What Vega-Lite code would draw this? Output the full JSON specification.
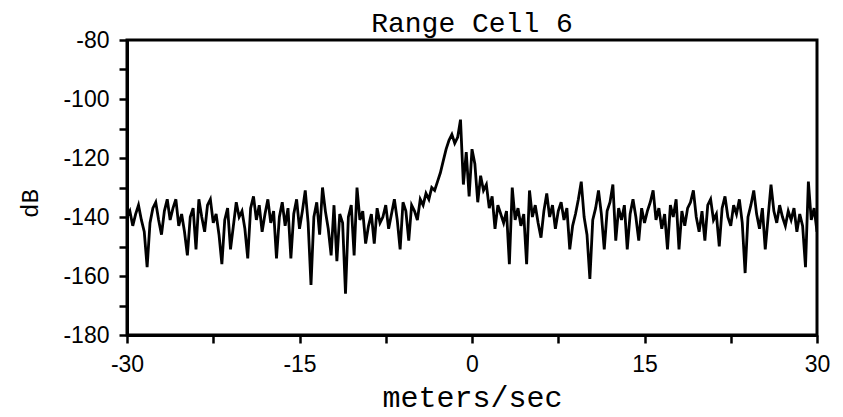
{
  "$schema": "https://vega.github.io/schema/vega-lite/v6.json",
  "autosize": "none",
  "width": 690,
  "height": 295,
  "padding": {"left": 127, "top": 40, "right": 26, "bottom": 82},
  "background": "white",
  "title": {
    "text": "Range Cell 6",
    "font": "Liberation Mono",
    "fontSize": 28,
    "fontWeight": "normal",
    "color": "black",
    "anchor": "middle",
    "offset": 8,
    "dy": 17
  },
  "config": {
    "view": {"stroke": "black", "strokeWidth": 3},
    "axis": {"grid": false, "domainColor": "black", "domainWidth": 3, "tickColor": "black", "tickWidth": 2.5, "labelColor": "black", "titleColor": "black"}
  },
  "data": {
    "values": [
      {"v": -30, "db": -140}, {"v": -29.75, "db": -138}, {"v": -29.5, "db": -143}, {"v": -29.25, "db": -139},
      {"v": -29, "db": -136}, {"v": -28.75, "db": -141}, {"v": -28.5, "db": -145}, {"v": -28.25, "db": -157},
      {"v": -28, "db": -142}, {"v": -27.75, "db": -137}, {"v": -27.5, "db": -135}, {"v": -27.25, "db": -141},
      {"v": -27, "db": -146}, {"v": -26.75, "db": -138}, {"v": -26.5, "db": -134}, {"v": -26.25, "db": -141},
      {"v": -26, "db": -137}, {"v": -25.75, "db": -134}, {"v": -25.5, "db": -143}, {"v": -25.25, "db": -139},
      {"v": -25, "db": -145}, {"v": -24.75, "db": -153}, {"v": -24.5, "db": -140}, {"v": -24.25, "db": -137},
      {"v": -24, "db": -151}, {"v": -23.75, "db": -134}, {"v": -23.5, "db": -140}, {"v": -23.25, "db": -145},
      {"v": -23, "db": -136}, {"v": -22.75, "db": -134}, {"v": -22.5, "db": -142}, {"v": -22.25, "db": -139},
      {"v": -22, "db": -146}, {"v": -21.75, "db": -156}, {"v": -21.5, "db": -141}, {"v": -21.25, "db": -137},
      {"v": -21, "db": -151}, {"v": -20.75, "db": -143}, {"v": -20.5, "db": -135}, {"v": -20.25, "db": -140},
      {"v": -20, "db": -138}, {"v": -19.75, "db": -144}, {"v": -19.5, "db": -154}, {"v": -19.25, "db": -137},
      {"v": -19, "db": -133}, {"v": -18.75, "db": -141}, {"v": -18.5, "db": -136}, {"v": -18.25, "db": -145},
      {"v": -18, "db": -139}, {"v": -17.75, "db": -134}, {"v": -17.5, "db": -142}, {"v": -17.25, "db": -138},
      {"v": -17, "db": -154}, {"v": -16.75, "db": -140}, {"v": -16.5, "db": -135}, {"v": -16.25, "db": -143},
      {"v": -16, "db": -137}, {"v": -15.75, "db": -154}, {"v": -15.5, "db": -139}, {"v": -15.25, "db": -134},
      {"v": -15, "db": -144}, {"v": -14.75, "db": -138}, {"v": -14.5, "db": -131}, {"v": -14.25, "db": -142},
      {"v": -14, "db": -163}, {"v": -13.75, "db": -140}, {"v": -13.5, "db": -135}, {"v": -13.25, "db": -146},
      {"v": -13, "db": -130}, {"v": -12.75, "db": -138}, {"v": -12.5, "db": -144}, {"v": -12.25, "db": -153},
      {"v": -12, "db": -136}, {"v": -11.75, "db": -155}, {"v": -11.5, "db": -139}, {"v": -11.25, "db": -142},
      {"v": -11, "db": -166}, {"v": -10.75, "db": -140}, {"v": -10.5, "db": -136}, {"v": -10.25, "db": -153},
      {"v": -10, "db": -130}, {"v": -9.75, "db": -141}, {"v": -9.5, "db": -138}, {"v": -9.25, "db": -149},
      {"v": -9, "db": -143}, {"v": -8.75, "db": -139}, {"v": -8.5, "db": -149}, {"v": -8.25, "db": -137},
      {"v": -8, "db": -142}, {"v": -7.75, "db": -140}, {"v": -7.5, "db": -136}, {"v": -7.25, "db": -144},
      {"v": -7, "db": -139}, {"v": -6.75, "db": -134}, {"v": -6.5, "db": -141}, {"v": -6.25, "db": -151},
      {"v": -6, "db": -135}, {"v": -5.75, "db": -138}, {"v": -5.5, "db": -148}, {"v": -5.25, "db": -136},
      {"v": -5, "db": -138}, {"v": -4.75, "db": -141}, {"v": -4.5, "db": -134}, {"v": -4.25, "db": -136},
      {"v": -4, "db": -132}, {"v": -3.75, "db": -134}, {"v": -3.5, "db": -130}, {"v": -3.25, "db": -131},
      {"v": -3, "db": -128}, {"v": -2.75, "db": -125}, {"v": -2.5, "db": -121}, {"v": -2.25, "db": -117},
      {"v": -2, "db": -114}, {"v": -1.75, "db": -112}, {"v": -1.5, "db": -115}, {"v": -1.25, "db": -113},
      {"v": -1, "db": -107}, {"v": -0.75, "db": -129}, {"v": -0.5, "db": -118}, {"v": -0.25, "db": -133},
      {"v": 0, "db": -117}, {"v": 0.25, "db": -122}, {"v": 0.5, "db": -135}, {"v": 0.75, "db": -126},
      {"v": 1, "db": -131}, {"v": 1.25, "db": -129}, {"v": 1.5, "db": -137}, {"v": 1.75, "db": -133},
      {"v": 2, "db": -144}, {"v": 2.25, "db": -136}, {"v": 2.5, "db": -139}, {"v": 2.75, "db": -142},
      {"v": 3, "db": -138}, {"v": 3.25, "db": -156}, {"v": 3.5, "db": -130}, {"v": 3.75, "db": -141},
      {"v": 4, "db": -137}, {"v": 4.25, "db": -143}, {"v": 4.5, "db": -139}, {"v": 4.75, "db": -156},
      {"v": 5, "db": -131}, {"v": 5.25, "db": -140}, {"v": 5.5, "db": -136}, {"v": 5.75, "db": -142},
      {"v": 6, "db": -147}, {"v": 6.25, "db": -138}, {"v": 6.5, "db": -132}, {"v": 6.75, "db": -140},
      {"v": 7, "db": -136}, {"v": 7.25, "db": -144}, {"v": 7.5, "db": -138}, {"v": 7.75, "db": -135},
      {"v": 8, "db": -141}, {"v": 8.25, "db": -137}, {"v": 8.5, "db": -151}, {"v": 8.75, "db": -143},
      {"v": 9, "db": -139}, {"v": 9.25, "db": -134}, {"v": 9.5, "db": -128}, {"v": 9.75, "db": -140},
      {"v": 10, "db": -146}, {"v": 10.25, "db": -161}, {"v": 10.5, "db": -141}, {"v": 10.75, "db": -137},
      {"v": 11, "db": -131}, {"v": 11.25, "db": -139}, {"v": 11.5, "db": -151}, {"v": 11.75, "db": -138},
      {"v": 12, "db": -135}, {"v": 12.25, "db": -129}, {"v": 12.5, "db": -148}, {"v": 12.75, "db": -137},
      {"v": 13, "db": -141}, {"v": 13.25, "db": -136}, {"v": 13.5, "db": -151}, {"v": 13.75, "db": -139},
      {"v": 14, "db": -134}, {"v": 14.25, "db": -140}, {"v": 14.5, "db": -148}, {"v": 14.75, "db": -137},
      {"v": 15, "db": -142}, {"v": 15.25, "db": -138}, {"v": 15.5, "db": -135}, {"v": 15.75, "db": -131},
      {"v": 16, "db": -141}, {"v": 16.25, "db": -137}, {"v": 16.5, "db": -144}, {"v": 16.75, "db": -139},
      {"v": 17, "db": -151}, {"v": 17.25, "db": -136}, {"v": 17.5, "db": -140}, {"v": 17.75, "db": -134},
      {"v": 18, "db": -151}, {"v": 18.25, "db": -138}, {"v": 18.5, "db": -143}, {"v": 18.75, "db": -137},
      {"v": 19, "db": -135}, {"v": 19.25, "db": -131}, {"v": 19.5, "db": -140}, {"v": 19.75, "db": -145},
      {"v": 20, "db": -138}, {"v": 20.25, "db": -148}, {"v": 20.5, "db": -136}, {"v": 20.75, "db": -134},
      {"v": 21, "db": -141}, {"v": 21.25, "db": -139}, {"v": 21.5, "db": -150}, {"v": 21.75, "db": -137},
      {"v": 22, "db": -133}, {"v": 22.25, "db": -140}, {"v": 22.5, "db": -143}, {"v": 22.75, "db": -136},
      {"v": 23, "db": -139}, {"v": 23.25, "db": -134}, {"v": 23.5, "db": -142}, {"v": 23.75, "db": -159},
      {"v": 24, "db": -140}, {"v": 24.25, "db": -136}, {"v": 24.5, "db": -131}, {"v": 24.75, "db": -139},
      {"v": 25, "db": -144}, {"v": 25.25, "db": -137}, {"v": 25.5, "db": -151}, {"v": 25.75, "db": -140},
      {"v": 26, "db": -129}, {"v": 26.25, "db": -138}, {"v": 26.5, "db": -142}, {"v": 26.75, "db": -136},
      {"v": 27, "db": -140}, {"v": 27.25, "db": -143}, {"v": 27.5, "db": -138}, {"v": 27.75, "db": -141},
      {"v": 28, "db": -137}, {"v": 28.25, "db": -145}, {"v": 28.5, "db": -139}, {"v": 28.75, "db": -143},
      {"v": 29, "db": -157}, {"v": 29.25, "db": -128}, {"v": 29.5, "db": -141}, {"v": 29.75, "db": -137},
      {"v": 30, "db": -145}
    ]
  },
  "mark": {"type": "line", "color": "black", "strokeWidth": 2.8, "clip": true},
  "encoding": {
    "x": {
      "field": "v",
      "type": "quantitative",
      "scale": {"domain": [-30, 30], "nice": false, "zero": false},
      "axis": {
        "title": "meters/sec",
        "titleFont": "Liberation Mono",
        "titleFontSize": 30,
        "titleFontWeight": "normal",
        "titleX": 345,
        "titleY": 62,
        "titleBaseline": "middle",
        "values": [-30, -22.5, -15, -7.5, 0, 7.5, 15, 22.5, 30],
        "labelExpr": "datum.value % 15 == 0 ? replace(datum.label, '\u2212', '-') : ''",
        "labelFont": "Liberation Sans",
        "labelFontSize": 23,
        "labelPadding": 10,
        "labelDx": 4,
        "labelFlush": false,
        "labelOverlap": false,
        "tickSize": 8
      }
    },
    "y": {
      "field": "db",
      "type": "quantitative",
      "scale": {"domain": [-180, -80], "nice": false, "zero": false},
      "axis": {
        "title": "dB",
        "titleFont": "Liberation Mono",
        "titleFontSize": 24,
        "titleFontWeight": "normal",
        "titleAngle": -90,
        "titleX": -97,
        "titleY": 163,
        "titleBaseline": "middle",
        "titleAlign": "center",
        "values": [-180, -170, -160, -150, -140, -130, -120, -110, -100, -90, -80],
        "labelExpr": "datum.value % 20 == 0 ? replace(datum.label, '\u2212', '-') : ''",
        "labelFont": "Liberation Sans",
        "labelFontSize": 23,
        "labelPadding": 10,
        "labelFlush": false,
        "labelOverlap": false,
        "tickSize": 8
      }
    }
  }
}
